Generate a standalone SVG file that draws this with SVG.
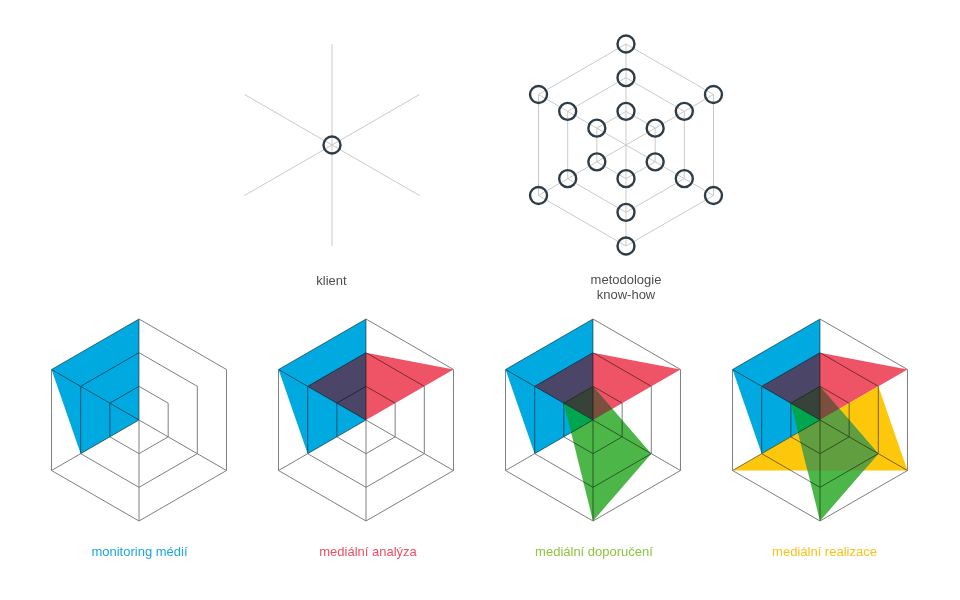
<svg xmlns="http://www.w3.org/2000/svg" xmlns:xlink="http://www.w3.org/1999/xlink" width="960" height="600" viewBox="0 0 960 600">
<style>
.thin{fill:none;stroke:#c9c9c9;stroke-width:1}
.node{fill:none;stroke:#2f3b45;stroke-width:2.4}
.grid{fill:none;stroke:#7e7e7e;stroke-width:1;mix-blend-mode:multiply}
.lbl{font-family:"Liberation Sans","DejaVu Sans",sans-serif;font-size:13px;fill:#4d4d4d;text-anchor:middle}
.blbl{font-family:"Liberation Sans","DejaVu Sans",sans-serif;font-size:13px;text-anchor:middle}
.blue{fill:#00a9e0}.red{fill:#ef5466}.dark{fill:#4b4667}.green{fill:#4cb748}.yellow{fill:#fdc70c}
.gb{fill:#00a54f}.gd{fill:#374238}.gr{fill:#7a4f3e}.gy{fill:#619e40}
</style>
<defs>
<path id="gridpath" d="M0,-101L87.47,-50.5L87.47,50.5L0,101L-87.47,50.5L-87.47,-50.5Z M0,-67.33L58.31,-33.67L58.31,33.67L0,67.33L-58.31,33.67L-58.31,-33.67Z M0,-33.67L29.16,-16.83L29.16,16.83L0,33.67L-29.16,16.83L-29.16,-16.83Z M0,-101V101 M-87.47,-50.5L0,0L87.47,50.5 M-87.47,50.5L0,0"/>
<path id="methpath" d="M0,-101L87.47,-50.5L87.47,50.5L0,101L-87.47,50.5L-87.47,-50.5Z M0,-67.33L58.31,-33.67L58.31,33.67L0,67.33L-58.31,33.67L-58.31,-33.67Z M0,-33.67L29.16,-16.83L29.16,16.83L0,33.67L-29.16,16.83L-29.16,-16.83Z M0,-101V101 M-87.47,-50.5L87.47,50.5 M-87.47,50.5L87.47,-50.5"/>
<polygon id="pBlue" points="0,-101 -87.47,-50.5 -58.31,33.67 0,0"/>
<polygon id="pRed" points="0,-67.33 87.47,-50.5 0,0"/>
<polygon id="pDark" points="0,-67.33 -58.31,-33.67 0,0"/>
<polygon id="pGreen" points="0,-33.67 58.31,33.67 0,101 -29.16,-16.83"/>
<polygon id="pGD" points="-29.16,-16.83 0,-33.67 0,0"/>
<polygon id="pGR" points="0,-33.67 19.44,-11.22 0,0"/>
<polygon id="pGB" points="-29.16,-16.83 0,0 -21.87,12.63"/>
<polygon id="pYellow" points="58.31,-33.67 87.47,50.5 -87.47,50.5"/>
<polygon id="pGY" points="19.44,-11.22 58.31,33.67 43.73,50.5 -12.5,50.5 -21.87,12.63"/>
</defs>

<g id="klient">
<g transform="translate(332,145)">
<path class="thin" d="M0,-101V101 M-87.47,-50.5L87.47,50.5 M-87.47,50.5L87.47,-50.5"/>
<circle class="node" cx="0" cy="0" r="8.5"/>
</g>
<text class="lbl" x="331.5" y="285">klient</text>
</g>

<g id="metodologie">
<g transform="translate(626,145)">
<use xlink:href="#methpath" class="thin"/>
<g class="node">
<circle cx="0" cy="-101" r="8.5"/><circle cx="87.47" cy="-50.5" r="8.5"/><circle cx="87.47" cy="50.5" r="8.5"/><circle cx="0" cy="101" r="8.5"/><circle cx="-87.47" cy="50.5" r="8.5"/><circle cx="-87.47" cy="-50.5" r="8.5"/>
<circle cx="0" cy="-67.33" r="8.5"/><circle cx="58.31" cy="-33.67" r="8.5"/><circle cx="58.31" cy="33.67" r="8.5"/><circle cx="0" cy="67.33" r="8.5"/><circle cx="-58.31" cy="33.67" r="8.5"/><circle cx="-58.31" cy="-33.67" r="8.5"/>
<circle cx="0" cy="-33.67" r="8.5"/><circle cx="29.16" cy="-16.83" r="8.5"/><circle cx="29.16" cy="16.83" r="8.5"/><circle cx="0" cy="33.67" r="8.5"/><circle cx="-29.16" cy="16.83" r="8.5"/><circle cx="-29.16" cy="-16.83" r="8.5"/>
</g>
</g>
<text class="lbl" x="626" y="284">metodologie</text>
<text class="lbl" x="626" y="299">know-how</text>
</g>

<g id="monitoring">
<g transform="translate(139,420)">
<use xlink:href="#pBlue" class="blue"/>
<use xlink:href="#gridpath" class="grid"/>
</g>
<text class="blbl" x="139.5" y="556" fill="#1aa7e0">monitoring médií</text>
</g>

<g id="analyza">
<g transform="translate(366,420)">
<use xlink:href="#pBlue" class="blue"/>
<use xlink:href="#pRed" class="red"/>
<use xlink:href="#pDark" class="dark"/>
<use xlink:href="#gridpath" class="grid"/>
</g>
<text class="blbl" x="368" y="556" fill="#ee4f63">mediální analýza</text>
</g>

<g id="doporuceni">
<g transform="translate(593,420)">
<use xlink:href="#pBlue" class="blue"/>
<use xlink:href="#pRed" class="red"/>
<use xlink:href="#pDark" class="dark"/>
<use xlink:href="#pGreen" class="green"/>
<use xlink:href="#pGD" class="gd"/>
<use xlink:href="#pGR" class="gr"/>
<use xlink:href="#pGB" class="gb"/>
<use xlink:href="#gridpath" class="grid"/>
</g>
<text class="blbl" x="594" y="556" fill="#8cc540">mediální doporučení</text>
</g>

<g id="realizace">
<g transform="translate(820,420)">
<use xlink:href="#pBlue" class="blue"/>
<use xlink:href="#pRed" class="red"/>
<use xlink:href="#pDark" class="dark"/>
<use xlink:href="#pYellow" class="yellow"/>
<use xlink:href="#pGreen" class="green"/>
<use xlink:href="#pGD" class="gd"/>
<use xlink:href="#pGR" class="gr"/>
<use xlink:href="#pGB" class="gb"/>
<use xlink:href="#pGY" class="gy"/>
<use xlink:href="#gridpath" class="grid"/>
</g>
<text class="blbl" x="824.5" y="556" fill="#f8c21c">mediální realizace</text>
</g>
</svg>
